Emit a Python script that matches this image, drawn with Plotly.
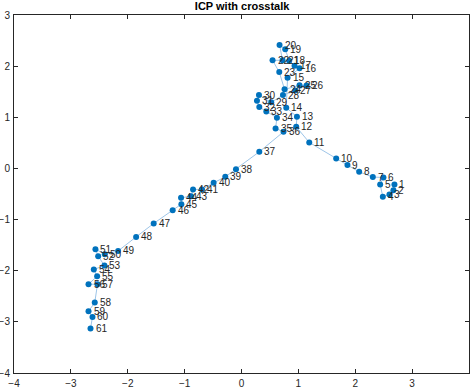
import plotly.graph_objects as go

labels = [str(i) for i in range(1, 62)]
xs = [2.689, 2.671, 2.601, 2.485, 2.438, 2.496, 2.309, 2.069, 1.863, 1.665,
      1.191, 0.962, 0.975, 0.787, 0.810, 1.020, 0.933, 0.839, 0.769, 0.669,
      0.722, 0.546, 0.664, 0.757, 1.020, 1.143, 0.945, 0.729, 0.523, 0.307,
      0.272, 0.313, 0.436, 0.623, 0.599, 0.739, 0.313, -0.097, -0.285, -0.490,
      -0.694, -0.852, -0.887, -1.063, -1.057, -1.210, -1.544, -1.853, -2.169, -2.404,
      -2.568, -2.520, -2.410, -2.597, -2.538, -2.690, -2.532, -2.580, -2.690, -2.620,
      -2.655]
ys = [-0.313, -0.425, -0.509, -0.556, -0.313, -0.176, -0.170, -0.067, 0.065, 0.192,
      0.509, 0.814, 1.010, 1.186, 1.773, 1.957, 2.008, 2.106, 2.329, 2.413,
      2.114, 2.114, 1.884, 1.546, 1.624, 1.620, 1.523, 1.434, 1.292, 1.434,
      1.323, 1.200, 1.115, 0.990, 0.783, 0.716, 0.325, -0.014, -0.164, -0.282,
      -0.411, -0.411, -0.542, -0.575, -0.699, -0.816, -1.076, -1.339, -1.613, -1.677,
      -1.579, -1.716, -1.898, -1.977, -2.108, -2.264, -2.264, -2.622, -2.793, -2.904,
      -3.131]
xticks = [-4, -3, -2, -1, 0, 1, 2, 3, 4]
yticks = [-4, -3, -2, -1, 0, 1, 2, 3]

fig = go.Figure()
fig.add_trace(go.Scatter(x=xs, y=ys, mode="lines",
                         line=dict(color="#9ec5e8", width=1), hoverinfo="skip"))
fig.add_trace(go.Scatter(x=xs, y=ys, mode="markers",
                         marker=dict(color="#0072BD", size=6, line=dict(width=0))))

for lab, x, y in zip(labels, xs, ys):
    fig.add_annotation(x=x, y=y, text=lab, showarrow=False, xanchor="left",
                       yanchor="middle", xshift=3,
                       font=dict(family="Liberation Sans, Arial", size=10, color="#262626"))

axis_common = dict(showgrid=False, zeroline=False, showline=True, linecolor="#262626",
                   linewidth=1, mirror="ticks", ticks="inside", ticklen=4,
                   tickcolor="#262626", tickwidth=1, automargin=False,
                   tickfont=dict(family="Liberation Sans, Arial", size=10, color="#262626"))

fig.update_layout(
    width=472, height=388, template="none",
    paper_bgcolor="white", plot_bgcolor="white", showlegend=False,
    margin=dict(l=14, r=3, t=15, b=15),
    title=dict(text="<b>ICP with crosstalk</b>", x=0.513, xanchor="center", y=0.983, yanchor="middle",
               font=dict(family="Liberation Sans, Arial", size=11, color="#000000")),
    xaxis=dict(range=[-4, 4], tickvals=xticks, ticklabelstandoff=1, **axis_common),
    yaxis=dict(range=[-4, 3], tickvals=yticks, ticklabelstandoff=1, **axis_common),
)
fig.write_html("out.html", config={"displayModeBar": False},
               post_script="document.body.style.margin='0';")
